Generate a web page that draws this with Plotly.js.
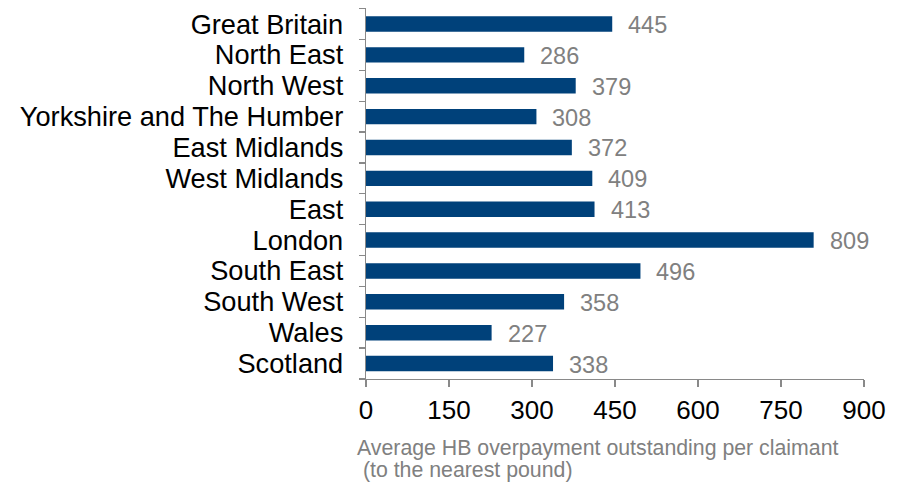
<!DOCTYPE html>
<html><head><meta charset="utf-8">
<script src="https://cdn.plot.ly/plotly-3.0.1.min.js"></script>
<style>html,body{margin:0;padding:0;background:#fff}#chart{width:906px;height:484px}</style>
</head><body><div id="chart"></div>
<script>
const regions = ["Great Britain","North East","North West","Yorkshire and The Humber","East Midlands","West Midlands","East","London","South East","South West","Wales","Scotland"];
const overpayment = [445,286,379,308,372,409,413,809,496,358,227,338];
const xTicks = [0,150,300,450,600,750,900];
const axisTitleLines = ["Average HB overpayment outstanding per claimant", "\u00a0(to the nearest pound)"];

const barColor = "#00417a";
const labelGray = "#808080";
const FONT = "Liberation Sans, Arial, sans-serif";

const trace = {
  type: "bar", orientation: "h",
  x: overpayment, y: regions,
  marker: {color: barColor},
  width: 0.5,
  hoverinfo: "none"
};

const annotations = overpayment.map((v, i) => ({
  x: v, y: regions[i], xref: "x", yref: "y", yshift: -1,
  text: String(v), showarrow: false, xanchor: "left", xshift: 14,
  font: {family: FONT, size: 23.5, color: labelGray}
}));
const titleY = [-0.187, -0.244];
axisTitleLines.forEach((t, i) => annotations.push({
  xref: "paper", yref: "paper", x: -0.022, y: titleY[i], xanchor: "left", yanchor: "middle",
  align: "left", showarrow: false, text: t,
  font: {family: FONT, size: 21.3, color: labelGray}
}));

const layout = {
  width: 906, height: 484,
  margin: {l: 366, r: 42, t: 8, b: 104.5},
  paper_bgcolor: "#fff", plot_bgcolor: "#fff",
  showlegend: false,
  font: {family: FONT, color: "#000"},
  xaxis: {
    range: [0, 900], tickmode: "array", tickvals: xTicks, ticktext: xTicks.map(String),
    showgrid: false, zeroline: false, showline: true, linecolor: "#898989", linewidth: 1.3,
    ticks: "outside", ticklen: 7, tickcolor: "#898989", tickwidth: 1.3,
    tickfont: {size: 26, color: "#000"}, fixedrange: true
  },
  yaxis: {
    autorange: "reversed", type: "category",
    tickmode: "array", tickvals: regions, ticktext: regions,
    showgrid: false, zeroline: false, showline: true, linecolor: "#898989", linewidth: 1.3,
    ticks: "outside", ticklen: 6, tickcolor: "#898989", tickwidth: 1.3, tickson: "boundaries",
    ticklabelstandoff: 16,
    tickfont: {size: 27.2, color: "#000"}, fixedrange: true
  },
  annotations: annotations
};
Plotly.newPlot("chart", [trace], layout, {displayModeBar: false, staticPlot: true});
</script></body></html>
